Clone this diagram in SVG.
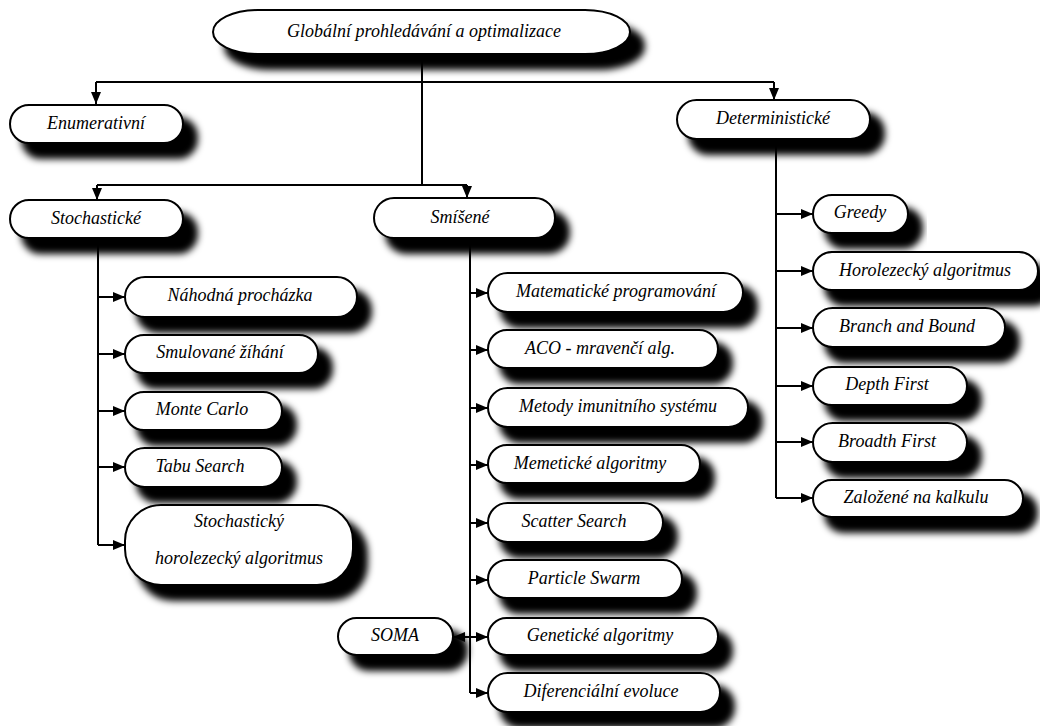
<svg xmlns="http://www.w3.org/2000/svg" width="1040" height="726" viewBox="0 0 1040 726">
  <style>
    .box { fill: #fff; stroke: #000; stroke-width: 2; filter: url(#shadow); }
    .lbl { font-family: "Liberation Serif", "DejaVu Serif", serif; font-style: italic; font-size: 18px; fill: #000; text-anchor: middle; }
    .ln { fill: none; stroke: #000; stroke-width: 2; }
    .ar { fill: none; stroke: #000; stroke-width: 2; marker-end: url(#head); }
  </style>
  <defs>
    <filter id="shadow" x="-10%" y="-30%" width="130%" height="200%">
      <feMorphology in="SourceAlpha" operator="dilate" radius="1" result="grown"/>
      <feGaussianBlur in="grown" stdDeviation="3.5"/>
      <feOffset dx="13" dy="14" result="off"/>
      <feFlood flood-color="#000"/>
      <feComposite in2="off" operator="in"/>
      <feMerge>
        <feMergeNode/>
        <feMergeNode in="SourceGraphic"/>
      </feMerge>
    </filter>
    <marker id="head" markerWidth="12" markerHeight="10" refX="12" refY="5" orient="auto" markerUnits="userSpaceOnUse">
      <path d="M0,0 L12,5 L0,10 z" fill="#000"/>
    </marker>
  </defs>
  <rect width="1040" height="726" fill="#fff"/>

  <!-- connectors -->
  <g id="connectors">
    <path class="ln" d="M422,54 V185"/>
    <path class="ln" d="M96,82 H774"/>
    <path class="ar" d="M96,82 V104"/>
    <path class="ar" d="M774,82 V100"/>
    <path class="ln" d="M97,185 H467"/>
    <path class="ar" d="M97,185 V200"/>
    <path class="ar" d="M467,185 V198"/>

    <!-- stochastic branch -->
    <path class="ln" d="M98,238 V545"/>
    <path class="ar" d="M98,297 H125"/>
    <path class="ar" d="M98,354 H125"/>
    <path class="ar" d="M98,411 H125"/>
    <path class="ar" d="M98,467 H125"/>
    <path class="ar" d="M98,545 H125"/>

    <!-- mixed branch -->
    <path class="ln" d="M470,238 V693"/>
    <path class="ar" d="M470,293 H488"/>
    <path class="ar" d="M470,350 H488"/>
    <path class="ar" d="M470,408 H488"/>
    <path class="ar" d="M470,465 H488"/>
    <path class="ar" d="M470,523 H488"/>
    <path class="ar" d="M470,580 H488"/>
    <path class="ar" d="M470,637 H488"/>
    <path class="ar" d="M470,693 H488"/>
    <path class="ar" d="M470,637 H453"/>

    <!-- deterministic branch -->
    <path class="ln" d="M776,139 V498"/>
    <path class="ar" d="M776,214 H813"/>
    <path class="ar" d="M776,271 H813"/>
    <path class="ar" d="M776,328 H813"/>
    <path class="ar" d="M776,386 H813"/>
    <path class="ar" d="M776,442 H813"/>
    <path class="ar" d="M776,498 H813"/>
  </g>

  <!-- root -->
  <g id="n-root">
    <rect class="box" x="213" y="10" width="417" height="44" rx="45" ry="22"/>
    <text class="lbl" x="424" y="37">Globální prohledávání a optimalizace</text>
  </g>

  <!-- first level -->
  <g id="n-enum">
    <rect class="box" x="10" y="105" width="173" height="38" rx="19"/>
    <text class="lbl" x="96" y="129">Enumerativní</text>
  </g>
  <g id="n-determ">
    <rect class="box" x="677" y="100" width="193" height="39" rx="19.5"/>
    <text class="lbl" x="773" y="124">Deterministické</text>
  </g>
  <g id="n-stoch">
    <rect class="box" x="10" y="200" width="173" height="38" rx="19"/>
    <text class="lbl" x="96" y="224">Stochastické</text>
  </g>
  <g id="n-mixed">
    <rect class="box" x="374" y="198" width="181" height="40" rx="20"/>
    <text class="lbl" x="460" y="223">Smíšené</text>
  </g>

  <!-- stochastic methods -->
  <g id="n-random-walk">
    <rect class="box" x="125" y="277" width="232" height="40" rx="20"/>
    <text class="lbl" x="240" y="301">Náhodná procházka</text>
  </g>
  <g id="n-annealing">
    <rect class="box" x="125" y="335" width="193" height="38" rx="19"/>
    <text class="lbl" x="220" y="358">Smulované žíhání</text>
  </g>
  <g id="n-monte-carlo">
    <rect class="box" x="125" y="392" width="157" height="38" rx="19"/>
    <text class="lbl" x="202" y="415">Monte Carlo</text>
  </g>
  <g id="n-tabu">
    <rect class="box" x="125" y="448" width="157" height="39" rx="19.5"/>
    <text class="lbl" x="200" y="472">Tabu Search</text>
  </g>
  <g id="n-stoch-hill">
    <rect class="box" x="125" y="505" width="228" height="80" rx="36"/>
    <text class="lbl" x="239" y="527">Stochastický</text>
    <text class="lbl" x="239" y="564">horolezecký algoritmus</text>
  </g>

  <!-- mixed methods -->
  <g id="n-math-prog">
    <rect class="box" x="488" y="273" width="255" height="39" rx="19.5"/>
    <text class="lbl" x="616" y="297">Matematické programování</text>
  </g>
  <g id="n-aco">
    <rect class="box" x="488" y="330" width="230" height="38" rx="19"/>
    <text class="lbl" x="600" y="354">ACO - mravenčí alg.</text>
  </g>
  <g id="n-immune">
    <rect class="box" x="488" y="388" width="260" height="39" rx="19.5"/>
    <text class="lbl" x="618" y="412">Metody imunitního systému</text>
  </g>
  <g id="n-memetic">
    <rect class="box" x="488" y="445" width="212" height="38" rx="19"/>
    <text class="lbl" x="590" y="469">Memetické algoritmy</text>
  </g>
  <g id="n-scatter">
    <rect class="box" x="488" y="503" width="175" height="39" rx="19.5"/>
    <text class="lbl" x="574" y="527">Scatter Search</text>
  </g>
  <g id="n-pso">
    <rect class="box" x="488" y="560" width="194" height="38" rx="19"/>
    <text class="lbl" x="584" y="584">Particle Swarm</text>
  </g>
  <g id="n-genetic">
    <rect class="box" x="488" y="618" width="230" height="37" rx="18.5"/>
    <text class="lbl" x="600" y="641">Genetické algoritmy</text>
  </g>
  <g id="n-de">
    <rect class="box" x="488" y="673" width="232" height="39" rx="19.5"/>
    <text class="lbl" x="601" y="697">Diferenciální evoluce</text>
  </g>
  <g id="n-soma">
    <rect class="box" x="338" y="618" width="115" height="37" rx="18.5"/>
    <text class="lbl" x="395" y="641">SOMA</text>
  </g>

  <!-- deterministic methods -->
  <g id="n-greedy">
    <rect class="box" x="813" y="195" width="95" height="38" rx="19"/>
    <text class="lbl" x="860" y="218">Greedy</text>
  </g>
  <g id="n-hill">
    <rect class="box" x="813" y="252" width="225" height="38" rx="19"/>
    <text class="lbl" x="925" y="276">Horolezecký algoritmus</text>
  </g>
  <g id="n-bnb">
    <rect class="box" x="813" y="308" width="192" height="39" rx="19.5"/>
    <text class="lbl" x="907" y="332">Branch and Bound</text>
  </g>
  <g id="n-dfs">
    <rect class="box" x="813" y="367" width="154" height="38" rx="19"/>
    <text class="lbl" x="887" y="390">Depth First</text>
  </g>
  <g id="n-bfs">
    <rect class="box" x="813" y="423" width="154" height="39" rx="19.5"/>
    <text class="lbl" x="887" y="447">Broadth First</text>
  </g>
  <g id="n-calculus">
    <rect class="box" x="813" y="480" width="210" height="37" rx="18.5"/>
    <text class="lbl" x="916" y="503">Založené na kalkulu</text>
  </g>
</svg>
